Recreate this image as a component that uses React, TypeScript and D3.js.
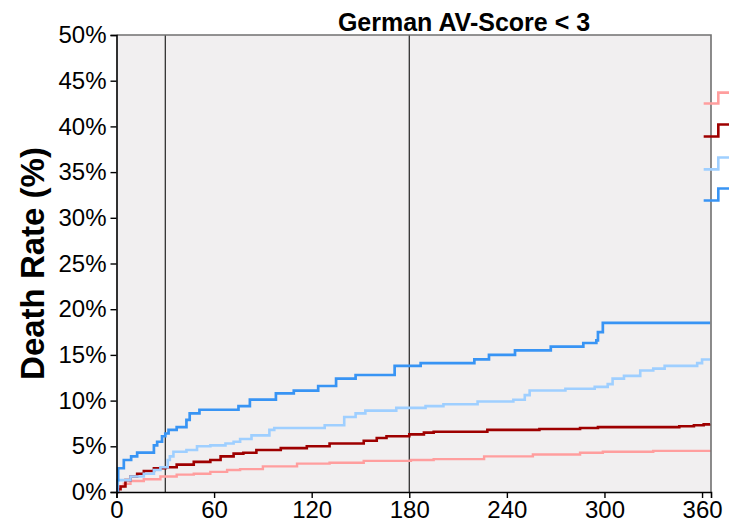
import React, { useEffect, useRef } from 'react';
import * as d3 from 'd3';

// days since surgery / death rate in %
const blueDays = [0, 0.4, 1, 4.5, 9, 12.7, 23, 25, 28, 30, 32, 37, 43, 45, 51, 75, 82, 98, 109, 124, 135, 147, 171, 187, 220, 229, 245, 267, 287, 295, 296, 299, 365];
const blueRate = [0, 1.3, 2.6, 3.5, 3.9, 4.3, 5.1, 5.5, 6.1, 6.4, 6.8, 7.1, 7.9, 8.6, 9.0, 9.4, 10.1, 10.8, 11.1, 11.6, 12.4, 12.8, 13.8, 14.1, 14.5, 15.0, 15.5, 15.9, 16.3, 16.6, 17.5, 18.5, 18.5];

const lightBlueDays = [0, 0.8, 8.6, 16.8, 23, 27, 31.5, 32.8, 35, 43, 49.5, 57.7, 67, 72, 76, 83, 94, 97, 128, 140, 147, 153, 172, 190, 201, 222, 244, 251, 254, 276, 294, 302, 305, 312, 322, 330, 337, 357, 360, 365];
const lightBlueRate = [0, 1.3, 1.7, 2.0, 2.4, 2.7, 3.5, 3.9, 4.4, 4.6, 5.0, 5.1, 5.3, 5.5, 5.8, 6.2, 6.8, 7.0, 7.3, 8.2, 8.6, 8.9, 9.2, 9.4, 9.6, 9.9, 10.1, 10.6, 11.1, 11.3, 11.5, 11.8, 12.4, 12.7, 13.3, 13.5, 13.8, 14.1, 14.5, 14.5];

const darkRedDays = [0, 1, 2.5, 5.5, 8.6, 12.7, 16.8, 23, 30, 37, 47.5, 57.7, 64, 72, 78, 86, 101, 117, 131, 152, 160, 166, 180, 189, 195, 228, 260, 285, 296, 346, 355, 361, 365];
const darkRedRate = [0, 0.3, 0.6, 1.3, 1.7, 2.0, 2.3, 2.6, 2.7, 3.0, 3.3, 3.5, 3.9, 4.2, 4.3, 4.6, 4.8, 5.0, 5.3, 5.6, 5.9, 6.1, 6.3, 6.5, 6.6, 6.8, 6.9, 7.0, 7.1, 7.2, 7.3, 7.4, 7.45];

const pinkDays = [0, 0.5, 1.4, 4.5, 8.6, 16.8, 27, 37, 47.5, 57.7, 68, 76, 90, 111, 131, 152, 181, 195, 226, 256, 285, 299, 330, 365];
const pinkRate = [0, 0.3, 0.6, 0.9, 1.2, 1.4, 1.7, 1.9, 2.0, 2.2, 2.4, 2.5, 2.8, 3.1, 3.2, 3.4, 3.5, 3.6, 3.9, 4.1, 4.3, 4.4, 4.5, 4.6];

// partial curves of the neighbouring panel, cut off at the right edge
const stubDays = [361, 370, 380];
const stubLow = [42.5, 38.9, 35.3, 31.9];
const stubHigh = [43.7, 40.2, 36.6, 33.2];

const seriesColors = ['#ff9e9e', '#9e0000', '#9fcfff', '#3894f4'];
const xTicks = [0, 60, 120, 180, 240, 300, 360];
const yTicks = [0, 5, 10, 15, 20, 25, 30, 35, 40, 45, 50];
const refDays = [30, 180];

const W = 729;
const H = 529;
const FONT = 'Arial, "Liberation Sans", sans-serif';

const App = () => {
  const svgRef = useRef<SVGSVGElement>(null);

  useEffect(() => {
    const svg = d3.select(svgRef.current);
    svg.selectAll('*').remove();

    const left = 116.5;
    const right = 711;
    const top = 35;
    const bottom = 492;

    const x = d3.scaleLinear().domain([0, 365.5]).range([left, right]);
    const y = d3.scaleLinear().domain([0, 50]).range([bottom, top]);

    svg.append('rect')
      .attr('x', left).attr('y', top)
      .attr('width', right - left).attr('height', bottom - top)
      .attr('fill', '#f1eff0');

    const line = d3.line<[number, number]>()
      .x(d => x(d[0]))
      .y(d => y(d[1]))
      .curve(d3.curveStepAfter);

    const series = [
      { days: pinkDays, rate: pinkRate, width: 2.4 },
      { days: darkRedDays, rate: darkRedRate, width: 2.6 },
      { days: lightBlueDays, rate: lightBlueRate, width: 2.6 },
      { days: blueDays, rate: blueRate, width: 2.7 }
    ];

    const clipId = 'plot-clip';
    svg.append('clipPath').attr('id', clipId)
      .append('rect')
      .attr('x', left).attr('y', top)
      .attr('width', right - left).attr('height', bottom - top + 2);

    const curves = svg.append('g').attr('clip-path', `url(#${clipId})`);

    // reference lines at 30 and 180 days
    refDays.forEach(d => {
      curves.append('line')
        .attr('x1', x(d)).attr('x2', x(d))
        .attr('y1', top).attr('y2', bottom)
        .attr('stroke', '#222')
        .attr('stroke-width', 1.2);
    });

    series.forEach((s, i) => {
      const pts = s.days.map((d, j) => [d, s.rate[j]] as [number, number]);
      curves.append('path')
        .attr('d', line(pts))
        .attr('fill', 'none')
        .attr('stroke', seriesColors[i])
        .attr('stroke-width', s.width);
    });

    // frame
    svg.append('path')
      .attr('d', `M${left},${top}H${right}V${bottom}`)
      .attr('fill', 'none')
      .attr('stroke', '#707070')
      .attr('stroke-width', 1.6);

    stubLow.forEach((lo, i) => {
      const pts: [number, number][] = [[stubDays[0], lo], [stubDays[1], stubHigh[i]], [stubDays[2], stubHigh[i]]];
      svg.append('path')
        .attr('d', line(pts))
        .attr('fill', 'none')
        .attr('stroke', seriesColors[i])
        .attr('stroke-width', 2.6);
    });

    const yAxis = svg.append('g')
      .attr('transform', `translate(${left},0)`)
      .call(d3.axisLeft(y).tickValues(yTicks).tickSize(6).tickPadding(4).tickFormat(d => `${d}%`));
    const xAxis = svg.append('g')
      .attr('transform', `translate(0,${bottom})`)
      .call(d3.axisBottom(x).tickValues(xTicks).tickSize(6).tickPadding(3));

    [yAxis, xAxis].forEach(ax => {
      ax.select('.domain').attr('stroke', '#000').attr('stroke-width', 1.6);
      ax.selectAll('.tick line').attr('stroke', '#000').attr('stroke-width', 1.4);
      ax.selectAll('.tick text')
        .attr('fill', '#000')
        .style('font-family', FONT)
        .style('font-size', '24px');
    });

    svg.append('text')
      .attr('x', 464).attr('y', 31)
      .attr('text-anchor', 'middle')
      .style('font-family', FONT)
      .style('font-weight', 'bold')
      .style('font-size', '25px')
      .text('German AV-Score < 3');

    svg.append('text')
      .attr('transform', `translate(44,${(top + bottom) / 2}) rotate(-90)`)
      .attr('text-anchor', 'middle')
      .style('font-family', FONT)
      .style('font-weight', 'bold')
      .style('font-size', '33px')
      .text('Death Rate (%)');
  }, []);

  return (
    <div style={{ position: 'absolute', left: 0, top: 0, width: W, height: H, background: '#fff' }}>
      <svg ref={svgRef} width={W} height={H} style={{ display: 'block' }} />
    </div>
  );
};

export default App;
